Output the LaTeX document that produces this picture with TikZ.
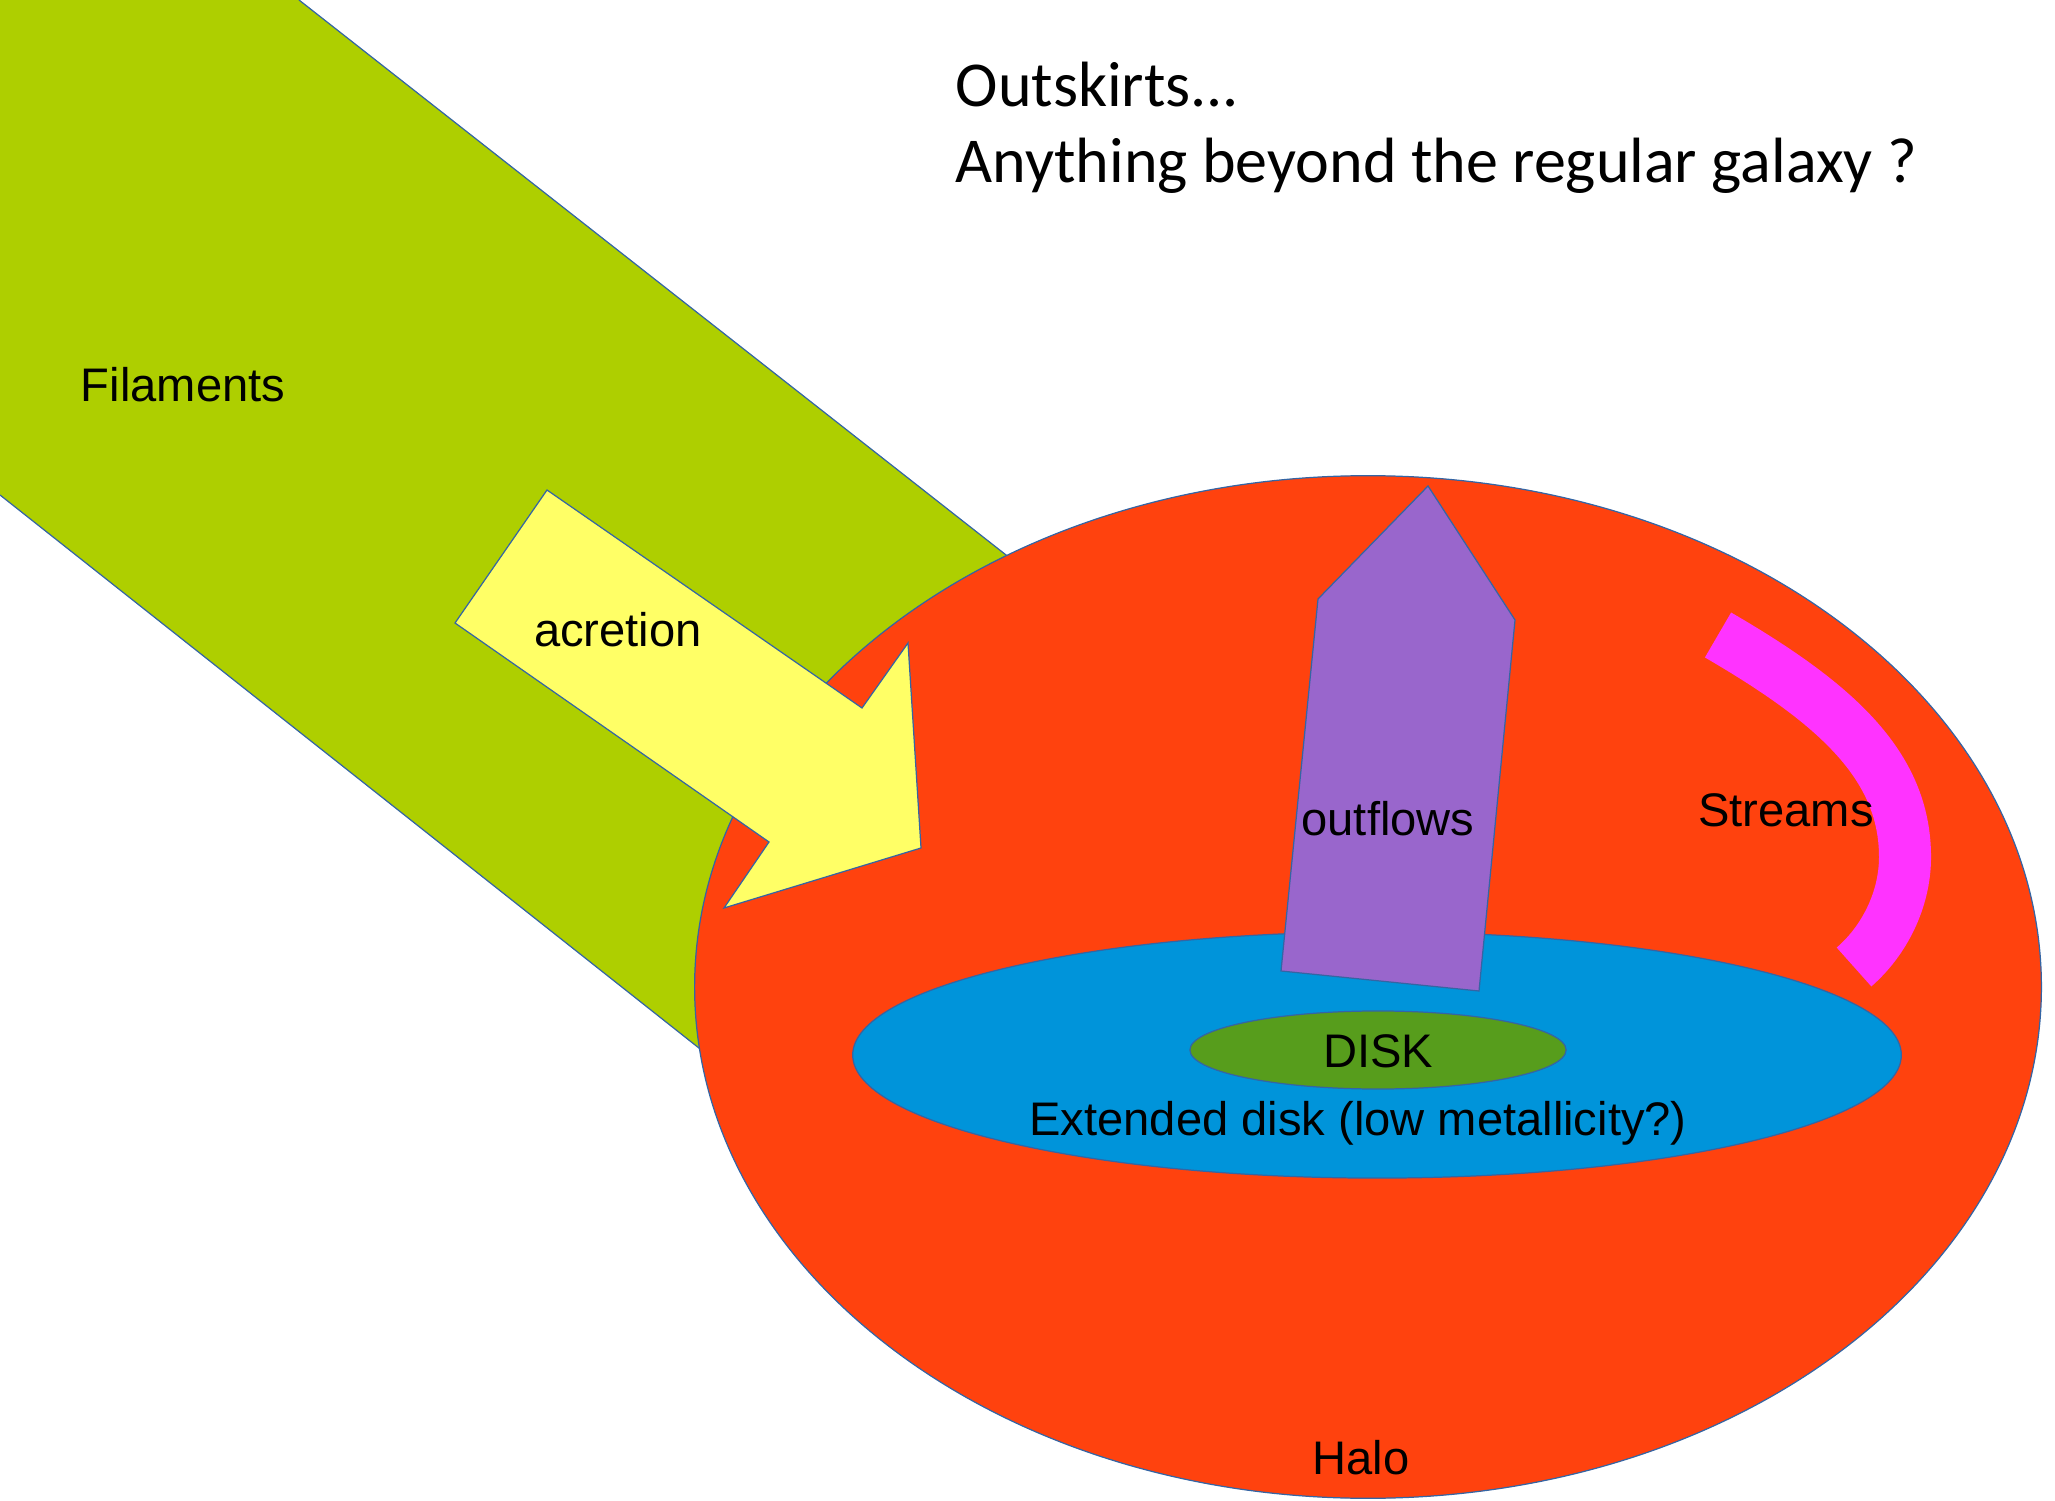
\documentclass[tikz,border=0pt]{standalone}
\usepackage{fontspec}
\setmainfont{Liberation Sans}
\newfontfamily\titlefont{Carlito}
\usepackage{tikz}

\definecolor{filgreen}{HTML}{AECF00}
\definecolor{acryellow}{HTML}{FFFF66}
\definecolor{halored}{HTML}{FF420E}
\definecolor{extblue}{HTML}{0094DA}
\definecolor{diskgreen}{HTML}{579D1C}
\definecolor{outviolet}{HTML}{9966CC}
\definecolor{strmagenta}{HTML}{FF33FF}
\definecolor{edgeblue}{HTML}{3465A4}

\begin{document}
\begin{tikzpicture}[x=0.01cm,y=-0.01cm,
	blob/.style={draw=edgeblue, line width=0.35pt},
	lbl/.style={font=\fontsize{13.4}{16}\selectfont, anchor=base, inner sep=0pt},
	ttl/.style={font=\titlefont\fontsize{18.2}{22}\selectfont, anchor=base west, inner sep=0pt}]
	\useasboundingbox (0,0) rectangle (2055,1501);
	% filaments band, runs in under the halo
	\fill [filgreen] (0,0) -- (299,0) -- (1150,668) -- (800,1128) -- (0,495) -- cycle;
	\draw [edgeblue, line width=0.35pt] (299,0) -- (1150,668);
	\draw [edgeblue, line width=0.35pt] (0,495) -- (800,1128);
	% halo and disks
	\draw [blob, fill=halored] (1368,987) ellipse [x radius=6.73cm, y radius=5.11cm];
	\draw [blob, fill=extblue] (1377,1055) ellipse [x radius=5.24cm, y radius=1.23cm];
	\draw [blob, fill=diskgreen] (1378,1050) ellipse [x radius=1.88cm, y radius=0.39cm];
	% outflows
	\draw [blob, fill=outviolet] (1428,486) -- (1515,620) -- (1479,991) -- (1281,971) -- (1318,599) -- cycle;
	% streams
	\draw [strmagenta, line width=0.52cm] (1718,635) .. controls (1835,703) and (1905,765) .. (1905,857)
		.. controls (1905,900) and (1884,941) .. (1854,967);
	% acretion arrow
	\draw [blob, fill=acryellow] (547,490) -- (862,708) -- (908,643) -- (921,848) -- (724,908) -- (769,842) -- (455,623) -- cycle;
	% labels
	\node [lbl] (n0) at (183,402) {Filaments};
	\node [lbl] (n1) at (618,647) {acretion};
	\node [lbl] (n2) at (1388,835) {outflows};
	\node [lbl] (n3) at (1786,827) {Streams};
	\node [lbl] (n4) at (1378,1067) {DISK};
	\node [lbl] (n5) at (1358,1135) {Extended disk (low metallicity?)};
	\node [lbl] (n6) at (1361,1474) {Halo};
	\node [ttl] (t0) at (955,107) {Outskirts...};
	\node [ttl] (t1) at (955,183) {Anything beyond the regular galaxy ?};
\end{tikzpicture}
\end{document}
